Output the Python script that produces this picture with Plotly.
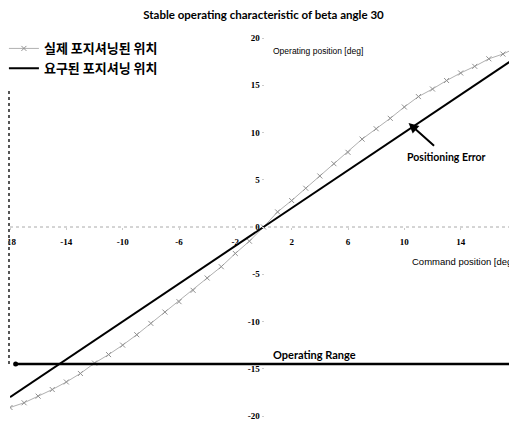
import plotly.graph_objects as go

# Data
command = list(range(-18, 19))
actual = [-19.1, -18.6, -17.9, -17.2, -16.4, -15.5, -14.4, -13.5, -12.5, -11.4,
          -10.2, -9.0, -7.9, -6.7, -5.4, -4.2, -2.8, -1.5, 0.0,
          1.6, 2.8, 4.1, 5.4, 6.7, 7.9, 9.3, 10.4, 11.5, 12.7,
          13.8, 14.6, 15.5, 16.3, 17.0, 17.8, 18.3, 19.0]
required_x = [-18, 18]
required_y = [-18, 18]
x_ticks = [-18, -14, -10, -6, -2, 2, 6, 10, 14, 18]
y_ticks = [-20, -15, -10, -5, 0, 5, 10, 15, 20]
operating_range_y = -14.5

fig = go.Figure()
fig.add_trace(go.Scatter(
    x=command, y=actual, mode="lines+markers",
    name="실제 포지셔닝된 위치",
    line=dict(color="#b0b0b0", width=1),
    marker=dict(symbol="x-thin", size=5, line=dict(color="#909090", width=1)),
))
fig.add_trace(go.Scatter(
    x=required_x, y=required_y, mode="lines",
    name="요구된 포지셔닝 위치",
    line=dict(color="black", width=2),
))

tickfont = dict(family="Liberation Serif", size=9, color="black", weight="bold")

fig.update_layout(
    width=517, height=424,
    margin=dict(l=2, r=8, t=30, b=16, autoexpand=False),
    paper_bgcolor="white", plot_bgcolor="white",
    title=dict(text="<b>Stable operating characteristic of beta angle 30</b>",
               x=0.5, xref="paper", y=1 - 7 / 424, yanchor="middle",
               font=dict(family="Lato", size=11.5, color="black")),
    xaxis=dict(range=[-18, 18], anchor="free", position=0.5, automargin=False,
               tickvals=x_ticks, ticktext=[str(v) for v in x_ticks],
               showgrid=False, zeroline=False, showline=False,
               ticks="outside", ticklen=2, tickcolor="#cccccc",
               tickfont=tickfont, ticklabelstandoff=4, ticklabeloverflow="allow"),
    yaxis=dict(range=[-20, 20], anchor="free", position=0.5, automargin=False,
               tickvals=y_ticks, ticktext=[str(v) for v in y_ticks],
               showgrid=False, zeroline=False, showline=False,
               ticks="outside", ticklen=2, tickcolor="#cccccc",
               tickfont=tickfont, ticklabeloverflow="allow"),
    legend=dict(x=-0.012, y=1.012, xanchor="left", yanchor="top",
                bgcolor="rgba(0,0,0,0)",
                font=dict(family="Noto Sans CJK KR", size=13, color="black", weight="bold"),
                tracegroupgap=0, itemwidth=30),
    showlegend=True,
)

# dotted zero line (x axis)
fig.add_shape(type="line", xref="x", yref="y", x0=-18, x1=18, y0=0, y1=0,
              line=dict(color="#aaaaaa", width=1, dash="dot"), layer="below")
# dotted vertical boundary at left
fig.add_shape(type="line", xref="paper", yref="y", x0=-0.002, x1=-0.002,
              y0=14.4, y1=operating_range_y,
              line=dict(color="#555555", width=2, dash="dot"))
# operating range line
fig.add_shape(type="line", xref="x", yref="y", x0=-17.6, x1=18, y0=operating_range_y,
              y1=operating_range_y, line=dict(color="black", width=2.5))
fig.add_shape(type="circle", xref="x", yref="y", xsizemode="pixel", ysizemode="pixel",
              xanchor=-17.6, yanchor=operating_range_y, x0=-2.5, x1=2.5, y0=-2.5, y1=2.5,
              fillcolor="black", line=dict(color="black", width=0))

fig.add_annotation(x=0.5, y=operating_range_y, xref="x", yref="y",
                   text="<b>Operating Range</b>", showarrow=False,
                   xanchor="left", yanchor="bottom", yshift=1,
                   font=dict(family="Lato", size=11, color="black"))
fig.add_annotation(x=10.3, y=11.0, xref="x", yref="y", text="", showarrow=True,
                   ax=27, ay=24, arrowhead=2, arrowsize=1, arrowwidth=2, arrowcolor="black")
fig.add_annotation(x=13.0, y=7.4, xref="x", yref="y", text="<b>Positioning Error</b>",
                   showarrow=False, font=dict(family="Lato", size=10.5, color="black"))
fig.add_annotation(x=0.5, y=18.6, xref="x", yref="y", text="Operating position [deg]",
                   showarrow=False, xanchor="left", yanchor="middle",
                   font=dict(family="Liberation Sans Narrow, Liberation Sans", size=8.5, color="black"))
fig.add_annotation(x=10.4, y=-3.7, xref="x", yref="y", text="Command position [deg]",
                   showarrow=False, xanchor="left", yanchor="middle",
                   font=dict(family="Liberation Sans Narrow, Liberation Sans", size=9.5, color="black"))

fig.write_html("out.html")
